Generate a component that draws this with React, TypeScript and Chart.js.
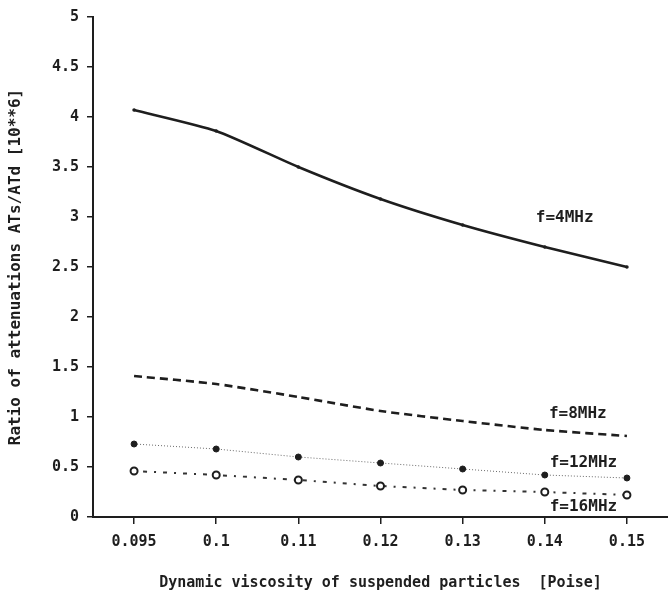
import React, { useEffect, useRef } from "react";
import { Chart, registerables } from "chart.js";

Chart.register(...registerables);

// Dynamic viscosity of the suspended particles [Poise]
const viscosity = ["0.095", "0.1", "0.11", "0.12", "0.13", "0.14", "0.15"];

// Ratio of attenuations ATs/ATd [10**6] for each frequency
const f4MHz = [4.07, 3.86, 3.5, 3.18, 2.92, 2.7, 2.5];
const f8MHz = [1.41, 1.33, 1.2, 1.06, 0.96, 0.87, 0.81];
const f12MHz = [0.73, 0.68, 0.6, 0.54, 0.48, 0.42, 0.39];
const f16MHz = [0.46, 0.42, 0.37, 0.31, 0.27, 0.25, 0.22];

// Curve labels: text, category position (fractional index) and value of the label's left/middle anchor
const curveLabels = ["f=4MHz", "f=8MHz", "f=12MHz", "f=16MHz"];
const curveLabelAt = [4.89, 5.05, 5.06, 5.06];
const curveLabelValue = [2.99, 1.03, 0.54, 0.1];

const INK = "#1e1e1e";
const FONT = "'DejaVu Sans Mono', monospace";

const curveLabelPlugin = {
  id: "curveLabels",
  afterDatasetsDraw(chart: any) {
    const { ctx, scales } = chart;
    ctx.save();
    ctx.fillStyle = INK;
    ctx.font = `bold 16px ${FONT}`;
    ctx.textAlign = "left";
    ctx.textBaseline = "middle";
    curveLabels.forEach((text, i) => {
      const x = scales.x.getPixelForValue(curveLabelAt[i]);
      const y = scales.y.getPixelForValue(curveLabelValue[i]);
      ctx.fillText(text, x, y);
    });
    ctx.restore();
  },
};

export default function App() {
  const canvasRef = useRef<HTMLCanvasElement | null>(null);

  useEffect(() => {
    document.body.style.margin = "0";
    const canvas = canvasRef.current;
    if (!canvas) return;

    const chart = new Chart(canvas, {
      type: "line",
      data: {
        labels: viscosity,
        datasets: [
          {
            label: "f=4MHz",
            data: f4MHz,
            borderColor: INK,
            borderWidth: 2.6,
            pointRadius: 1.8,
            pointBackgroundColor: INK,
            pointBorderWidth: 0,
            tension: 0.2,
          },
          {
            label: "f=8MHz",
            data: f8MHz,
            borderColor: INK,
            borderWidth: 2.6,
            borderDash: [8, 5],
            pointRadius: 0,
            tension: 0.2,
          },
          {
            label: "f=12MHz",
            data: f12MHz,
            borderColor: "#6a6a6a",
            borderWidth: 1,
            borderDash: [1, 2],
            pointRadius: 3,
            pointBackgroundColor: INK,
            pointBorderColor: INK,
            pointBorderWidth: 1,
            tension: 0,
          },
          {
            label: "f=16MHz",
            data: f16MHz,
            borderColor: "#333",
            borderWidth: 2,
            borderDash: [2, 7, 4, 7],
            pointRadius: 3.5,
            pointBackgroundColor: "#fff",
            pointBorderColor: INK,
            pointBorderWidth: 2,
            tension: 0,
          },
        ],
      },
      options: {
        animation: false,
        responsive: false,
        maintainAspectRatio: false,
        layout: { autoPadding: false, padding: { top: 9, right: 0, bottom: 0, left: 0 } },
        plugins: {
          legend: { display: false },
          tooltip: { enabled: false },
        },
        scales: {
          x: {
            type: "category",
            offset: true,
            grid: {
              display: true,
              drawOnChartArea: false,
              drawTicks: true,
              tickLength: 7,
              color: INK,
              lineWidth: 1.5,
            },
            border: { display: true, color: INK, width: 2 },
            ticks: {
              color: INK,
              font: { family: FONT, size: 15, weight: "bold" },
              padding: 9,
              maxRotation: 0,
              autoSkip: false,
            },
            title: {
              display: true,
              text: "Dynamic viscosity of suspended particles  [Poise]",
              color: INK,
              font: { family: FONT, size: 15, weight: "bold" },
              padding: { top: 10, bottom: 8 },
            },
            afterFit(scale: any) {
              scale.height = 83;
            },
          },
          y: {
            min: 0,
            max: 5,
            grid: {
              display: true,
              drawOnChartArea: false,
              drawTicks: true,
              tickLength: 6,
              color: INK,
              lineWidth: 1.5,
            },
            border: { display: true, color: INK, width: 2 },
            ticks: {
              stepSize: 0.5,
              color: INK,
              font: { family: FONT, size: 15, weight: "bold" },
              padding: 8,
              callback: (v: any) => String(v),
            },
            title: {
              display: true,
              text: "Ratio of attenuations ATs/ATd [10**6]",
              color: INK,
              font: { family: FONT, size: 16, weight: "bold" },
              padding: { top: 6, bottom: 4 },
            },
            afterFit(scale: any) {
              scale.width = 93;
            },
          },
        },
      },
      plugins: [curveLabelPlugin],
    });

    return () => chart.destroy();
  }, []);

  return (
    <div style={{ width: 668, height: 600, background: "#fff" }}>
      <canvas ref={canvasRef} width={668} height={600} style={{ display: "block" }} />
    </div>
  );
}
